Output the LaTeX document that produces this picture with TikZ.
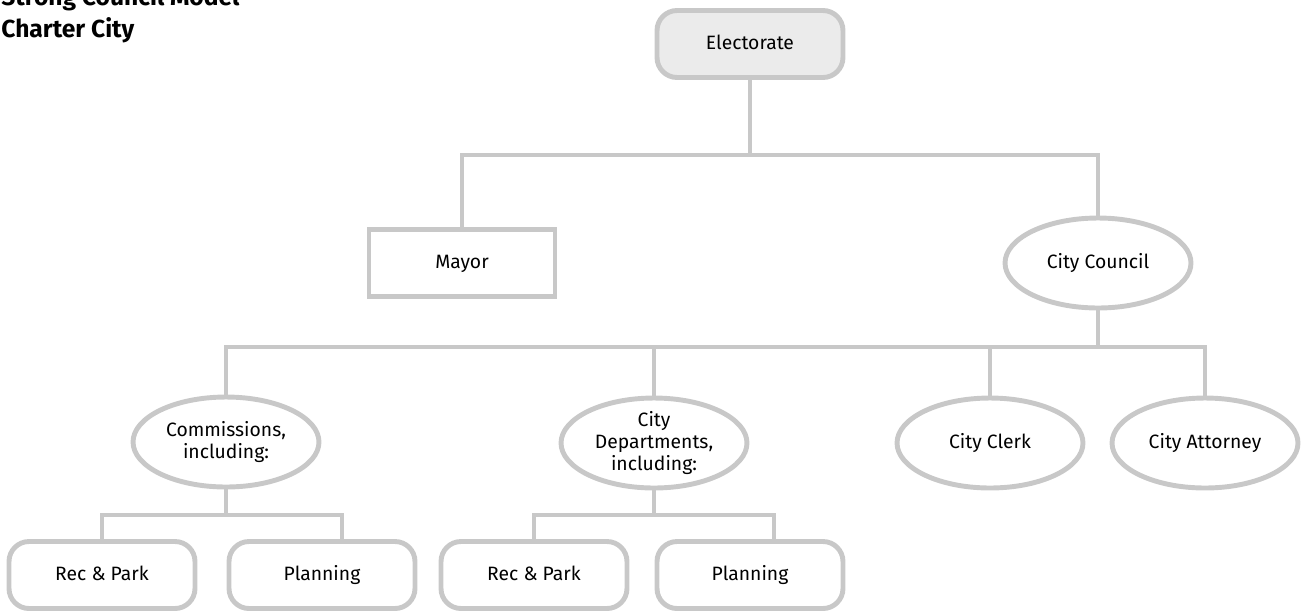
\documentclass[tikz,border=0pt]{standalone}
\usepackage{fontspec}
\setmainfont{Fira Sans}
\usepackage{xcolor}
\usetikzlibrary{shapes.geometric, positioning, calc}
\definecolor{linegray}{HTML}{C8C8C8}
\definecolor{topfill}{HTML}{EBEBEB}

\begin{document}
\begin{tikzpicture}[x=0.02cm, y=-0.02cm,
    % Box styles
    orgbase/.style={draw=linegray, line width=2.8pt, font=\fontsize{11}{12.5}\selectfont,
                    align=center, inner sep=2pt},
    rectbox/.style={orgbase, rectangle, minimum width=3.72cm, minimum height=1.34cm,
                    text height=1.6ex, text depth=0.5ex},
    roundbox/.style={rectbox, rounded corners=0.4cm},
    ovalbox/.style={orgbase, ellipse, minimum width=3.72cm, minimum height=1.8cm, inner sep=0pt},
    % Connector style
    link/.style={draw=linegray, line width=2.8pt}
]
\useasboundingbox (0,0) rectangle (1307,613);

% Title (top line cut by the page edge)
\node[anchor=base west, align=left, inner sep=0pt,
      font=\bfseries\fontsize{14}{18.2}\selectfont] (title) at (1,37) {Strong Council Model\\Charter City};

% Top level
\node[roundbox, fill=topfill] (electorate) at (750,44) {Electorate};

% Second level
\node[rectbox] (mayor) at (462,263) {Mayor};
\node[ovalbox] (council) at (1098,263) {City Council};

% Third level
\node[ovalbox] (commissions) at (226,442) {Commissions,\\including:};
\node[ovalbox] (depts) at (654,443) {City\\Departments,\\including:};
\node[ovalbox] (clerk) at (990,443) {City Clerk};
\node[ovalbox] (attorney) at (1205,443) {City Attorney};

% Bottom level
\node[roundbox] (recpark1) at (102,575) {Rec \& Park};
\node[roundbox] (planning1) at (322,575) {Planning};
\node[roundbox] (recpark2) at (534,575) {Rec \& Park};
\node[roundbox] (planning2) at (750,575) {Planning};

% Bus lines
\coordinate (topbus) at (750,155);
\coordinate (midbus) at (1098,347);
\coordinate (combus) at (226,515);
\coordinate (depbus) at (654,515);
\coordinate (plan1drop) at (342,515);
\coordinate (plan2drop) at (774,515);

% Electorate to Mayor and City Council
\draw[link] (electorate.south) -- (topbus);
\draw[link] (mayor.north) -- (mayor.north |- topbus) -| (council.north);

% City Council to its offices
\draw[link] (council.south) -- (midbus);
\draw[link] (commissions.north) -- (commissions.north |- midbus) -- (attorney.north |- midbus) -- (attorney.north);
\foreach \n in {depts, clerk} {
    \draw[link] (\n.north) -- (\n.north |- midbus);
}

% Commissions to its boards
\draw[link] (commissions.south) -- (combus);
\draw[link] (recpark1.north) -- (recpark1.north |- combus) -- (plan1drop) -- (plan1drop |- planning1.north);

% City Departments to its departments
\draw[link] (depts.south) -- (depbus);
\draw[link] (recpark2.north) -- (recpark2.north |- depbus) -- (plan2drop) -- (plan2drop |- planning2.north);

\end{tikzpicture}
\end{document}
